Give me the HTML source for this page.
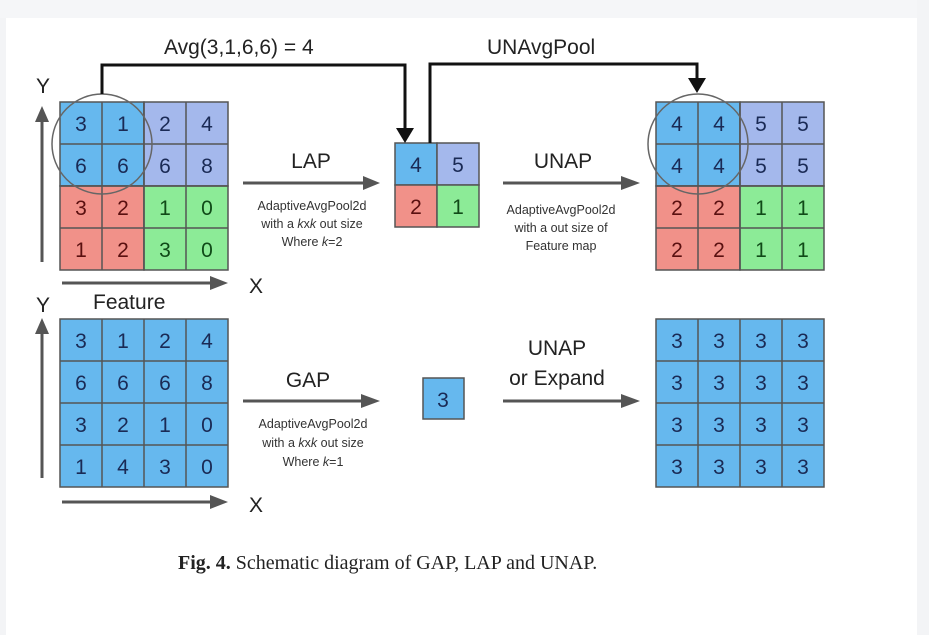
<!DOCTYPE html>
<html><head><style>
html,body{margin:0;padding:0;background:#f3f4f6;}
svg{display:block;}
text{font-family:"Liberation Sans",sans-serif;}
</style></head><body>
<svg width="929" height="635" viewBox="0 0 929 635" xmlns="http://www.w3.org/2000/svg">
<rect x="6" y="0" width="911" height="635" fill="#ffffff"/>
<rect x="0" y="0" width="929" height="18" fill="#f5f6f8"/>
<rect x="917" y="0" width="12" height="635" fill="#f3f4f6"/>
<g stroke="#555" stroke-width="1.5">
<rect x="60" y="102" width="84" height="84" fill="#66b8ee"/>
<rect x="144" y="102" width="84" height="84" fill="#a4b8ec"/>
<rect x="60" y="186" width="84" height="84" fill="#f19189"/>
<rect x="144" y="186" width="84" height="84" fill="#8ceb97"/>
<path d="M102 102V270M144 102V270M186 102V270M60 144H228M60 186H228M60 228H228" fill="none"/>
<rect x="395" y="143" width="42" height="42" fill="#66b8ee"/>
<rect x="437" y="143" width="42" height="42" fill="#a4b8ec"/>
<rect x="395" y="185" width="42" height="42" fill="#f19189"/>
<rect x="437" y="185" width="42" height="42" fill="#8ceb97"/>
<rect x="656" y="102" width="84" height="84" fill="#66b8ee"/>
<rect x="740" y="102" width="84" height="84" fill="#a4b8ec"/>
<rect x="656" y="186" width="84" height="84" fill="#f19189"/>
<rect x="740" y="186" width="84" height="84" fill="#8ceb97"/>
<path d="M698 102V270M740 102V270M782 102V270M656 144H824M656 186H824M656 228H824" fill="none"/>
<rect x="60" y="319" width="168" height="168" fill="#66b8ee"/>
<path d="M102 319V487M144 319V487M186 319V487M60 361H228M60 403H228M60 445H228" fill="none"/>
<rect x="423" y="378" width="41" height="41" fill="#66b8ee"/>
<rect x="656" y="319" width="168" height="168" fill="#66b8ee"/>
<path d="M698 319V487M740 319V487M782 319V487M656 361H824M656 403H824M656 445H824" fill="none"/>
</g>
<g fill="none" stroke="#666" stroke-width="1.5">
<circle cx="102" cy="144" r="50"/>
<circle cx="698" cy="144" r="50"/>
</g>
<g fill="none" stroke="#111" stroke-width="3">
<path d="M102 94V65H405V130"/>
<path d="M430 143V64H697V80"/>
</g>
<path d="M396 128L414 128L405 143Z" fill="#111"/>
<path d="M688 78L706 78L697 93Z" fill="#111"/>
<g stroke="#555" stroke-width="3" fill="#555">
<path d="M42 262V120" fill="none"/><path d="M35 122L42 106L49 122Z" stroke="none"/>
<path d="M62 283H212" fill="none"/><path d="M210 276L228 283L210 290Z" stroke="none"/>
<path d="M42 478V333" fill="none"/><path d="M35 334L42 318L49 334Z" stroke="none"/>
<path d="M62 502H212" fill="none"/><path d="M210 495L228 502L210 509Z" stroke="none"/>
<path d="M243 183H365" fill="none"/><path d="M363 176L380 183L363 190Z" stroke="none"/>
<path d="M503 183H623" fill="none"/><path d="M621 176L640 183L621 190Z" stroke="none"/>
<path d="M243 401H363" fill="none"/><path d="M361 394L380 401L361 408Z" stroke="none"/>
<path d="M503 401H623" fill="none"/><path d="M621 394L640 401L621 408Z" stroke="none"/>
</g>
<g font-size="21" text-anchor="middle" fill="#1a2a55">
<text x="81" y="131">3</text><text x="123" y="131">1</text><text x="165" y="131">2</text><text x="207" y="131">4</text>
<text x="81" y="173">6</text><text x="123" y="173">6</text><text x="165" y="173">6</text><text x="207" y="173">8</text>
<text x="81" y="215" fill="#5a1010">3</text><text x="123" y="215" fill="#5a1010">2</text><text x="165" y="215" fill="#104a18">1</text><text x="207" y="215" fill="#104a18">0</text>
<text x="81" y="257" fill="#5a1010">1</text><text x="123" y="257" fill="#5a1010">2</text><text x="165" y="257" fill="#104a18">3</text><text x="207" y="257" fill="#104a18">0</text>
<text x="416" y="172">4</text><text x="458" y="172">5</text>
<text x="416" y="214" fill="#5a1010">2</text><text x="458" y="214" fill="#104a18">1</text>
<text x="677" y="131">4</text><text x="719" y="131">4</text><text x="761" y="131">5</text><text x="803" y="131">5</text>
<text x="677" y="173">4</text><text x="719" y="173">4</text><text x="761" y="173">5</text><text x="803" y="173">5</text>
<text x="677" y="215" fill="#5a1010">2</text><text x="719" y="215" fill="#5a1010">2</text><text x="761" y="215" fill="#104a18">1</text><text x="803" y="215" fill="#104a18">1</text>
<text x="677" y="257" fill="#5a1010">2</text><text x="719" y="257" fill="#5a1010">2</text><text x="761" y="257" fill="#104a18">1</text><text x="803" y="257" fill="#104a18">1</text>
<text x="81" y="348">3</text><text x="123" y="348">1</text><text x="165" y="348">2</text><text x="207" y="348">4</text>
<text x="81" y="390">6</text><text x="123" y="390">6</text><text x="165" y="390">6</text><text x="207" y="390">8</text>
<text x="81" y="432">3</text><text x="123" y="432">2</text><text x="165" y="432">1</text><text x="207" y="432">0</text>
<text x="81" y="474">1</text><text x="123" y="474">4</text><text x="165" y="474">3</text><text x="207" y="474">0</text>
<text x="443" y="407">3</text>
<text x="677" y="348">3</text><text x="719" y="348">3</text><text x="761" y="348">3</text><text x="803" y="348">3</text>
<text x="677" y="390">3</text><text x="719" y="390">3</text><text x="761" y="390">3</text><text x="803" y="390">3</text>
<text x="677" y="432">3</text><text x="719" y="432">3</text><text x="761" y="432">3</text><text x="803" y="432">3</text>
<text x="677" y="474">3</text><text x="719" y="474">3</text><text x="761" y="474">3</text><text x="803" y="474">3</text>
</g>
<g fill="#222" font-size="21">
<text x="164" y="54">Avg(3,1,6,6) = 4</text>
<text x="487" y="54">UNAvgPool</text>
<text x="36" y="93">Y</text>
<text x="36" y="312">Y</text>
<text x="93" y="309">Feature</text>
<text x="249" y="293">X</text>
<text x="249" y="512">X</text>
<text x="311" y="168" text-anchor="middle">LAP</text>
<text x="563" y="168" text-anchor="middle">UNAP</text>
<text x="308" y="387" text-anchor="middle">GAP</text>
<text x="557" y="355" text-anchor="middle">UNAP</text>
<text x="557" y="385" text-anchor="middle">or Expand</text>
</g>
<g fill="#333" font-size="12.5" text-anchor="middle">
<text x="312" y="210">AdaptiveAvgPool2d</text>
<text x="312" y="228">with a <tspan font-style="italic">k</tspan>x<tspan font-style="italic">k</tspan> out size</text>
<text x="312" y="246">Where <tspan font-style="italic">k</tspan>=2</text>
<text x="561" y="214">AdaptiveAvgPool2d</text>
<text x="561" y="232">with a out size of</text>
<text x="561" y="250">Feature map</text>
<text x="313" y="428">AdaptiveAvgPool2d</text>
<text x="313" y="447">with a <tspan font-style="italic">k</tspan>x<tspan font-style="italic">k</tspan> out size</text>
<text x="313" y="466">Where <tspan font-style="italic">k</tspan>=1</text>
</g>
<text x="178" y="569" style="font-family:'Liberation Serif',serif;font-size:20px" fill="#222"><tspan font-weight="bold">Fig. 4.</tspan>  Schematic diagram of GAP, LAP and UNAP.</text>
</svg>
</body></html>
